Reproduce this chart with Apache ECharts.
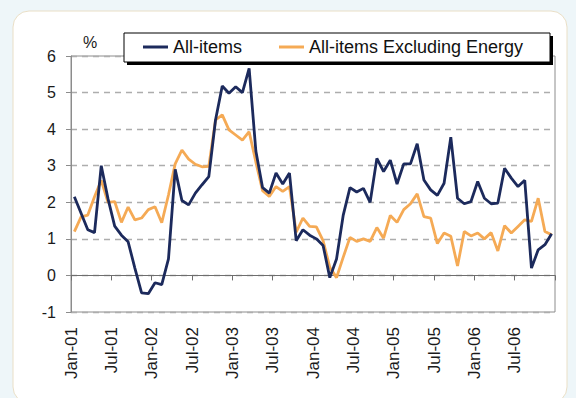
<!DOCTYPE html>
<html><head><meta charset="utf-8">
<script src="https://cdn.jsdelivr.net/npm/echarts@6/dist/echarts.min.js"></script>
<style>html,body{margin:0;padding:0;background:#eef6f9;}#c{width:576px;height:398px;}</style>
</head><body><div id="c"></div>
<script>
const months = [
 'Jan-01','Feb-01','Mar-01','Apr-01','May-01','Jun-01','Jul-01','Aug-01','Sep-01','Oct-01','Nov-01','Dec-01',
 'Jan-02','Feb-02','Mar-02','Apr-02','May-02','Jun-02','Jul-02','Aug-02','Sep-02','Oct-02','Nov-02','Dec-02',
 'Jan-03','Feb-03','Mar-03','Apr-03','May-03','Jun-03','Jul-03','Aug-03','Sep-03','Oct-03','Nov-03','Dec-03',
 'Jan-04','Feb-04','Mar-04','Apr-04','May-04','Jun-04','Jul-04','Aug-04','Sep-04','Oct-04','Nov-04','Dec-04',
 'Jan-05','Feb-05','Mar-05','Apr-05','May-05','Jun-05','Jul-05','Aug-05','Sep-05','Oct-05','Nov-05','Dec-05',
 'Jan-06','Feb-06','Mar-06','Apr-06','May-06','Jun-06','Jul-06','Aug-06','Sep-06','Oct-06','Nov-06','Dec-06'
];
const allItems = [
 2.15,1.7,1.25,1.17,3.0,2.1,1.35,1.1,0.92,0.2,-0.48,-0.5,
 -0.2,-0.25,0.45,2.9,2.05,1.93,2.25,2.48,2.7,4.25,5.18,4.98,
 5.16,5.0,5.66,3.4,2.4,2.25,2.8,2.5,2.8,0.95,1.25,1.1,
 1.0,0.82,-0.06,0.45,1.65,2.4,2.28,2.38,2.0,3.2,2.84,3.15,
 2.5,3.05,3.05,3.6,2.61,2.34,2.19,2.52,3.78,2.11,1.96,2.02,
 2.57,2.11,1.96,1.98,2.93,2.66,2.43,2.6,0.2,0.7,0.84,1.14
];
const exEnergy = [
 1.2,1.6,1.65,2.15,2.6,2.0,2.02,1.45,1.87,1.52,1.57,1.8,
 1.88,1.44,2.2,3.05,3.43,3.18,3.04,2.97,2.98,4.25,4.39,3.98,
 3.84,3.7,3.93,3.1,2.32,2.16,2.43,2.3,2.43,1.18,1.57,1.34,
 1.33,0.95,0.22,-0.06,0.5,1.04,0.93,1.0,0.93,1.31,1.02,1.64,
 1.45,1.8,1.96,2.23,1.61,1.57,0.87,1.16,1.07,0.26,1.2,1.08,
 1.16,1.0,1.17,0.67,1.36,1.16,1.34,1.52,1.48,2.11,1.2,1.11
];
const seriesNames = ['All-items','All-items Excluding Energy'];
const yMin = -1, yMax = 6, yStep = 1;
// tick-label positions sit on month boundaries (73 boundaries for 72 months)
const boundaryLabels = months.concat(['']);

const chart = echarts.init(document.getElementById('c'), null, {renderer:'svg'});
const FONT = 'Liberation Sans, Arial, sans-serif';
const option = {
  backgroundColor:'#eef6f9',
  animation:false,
  graphic:[
    {type:'rect', z:-10, silent:true, shape:{x:13,y:11,width:554,height:392,r:16},
     style:{fill:'#ffffff', stroke:'#eadfc6', lineWidth:1}},
    {type:'rect', z:50, silent:true, shape:{x:127,y:36,width:426,height:29}, style:{fill:'#000'}},
    {type:'rect', z:51, silent:true, shape:{x:124,y:33,width:426,height:29}, style:{fill:'#fff', stroke:'#000', lineWidth:1}}
  ],
  grid:{left:71,right:21,top:56,bottom:86,show:true,borderColor:'#8c8c8c',borderWidth:1,backgroundColor:'transparent'},
  legend:{
    left:143, top:38, padding:0, itemGap:37, itemWidth:25, itemHeight:3, icon:'rect', z:60,
    data:seriesNames,
    textStyle:{fontSize:18, fontFamily:FONT, color:'#111'}
  },
  xAxis:[
    {type:'category', data:months, boundaryGap:true,
     axisLine:{onZero:true, lineStyle:{color:'#6e6e6e', width:1}},
     axisTick:{show:true, interval:5, length:5, lineStyle:{color:'#6e6e6e'}},
     axisLabel:{show:false}, splitLine:{show:false}},
    {type:'category', data:boundaryLabels, boundaryGap:false, position:'bottom',
     axisLine:{show:false, onZero:false}, axisTick:{show:false}, splitLine:{show:false},
     axisLabel:{rotate:90, fontSize:17, fontFamily:FONT, color:'#1a1a1a', margin:15,
       interval:function(i){return i % 6 === 0 && i < months.length;}}}
  ],
  yAxis:{type:'value', min:yMin, max:yMax, interval:yStep,
    axisLine:{show:true, lineStyle:{color:'#8c8c8c'}},
    axisTick:{show:true, length:5, lineStyle:{color:'#8c8c8c'}},
    axisLabel:{fontSize:16, fontFamily:FONT, color:'#1a1a1a', margin:15},
    splitLine:{show:true, lineStyle:{type:[6,5], color:'#adadad', width:1.4}},
    name:'%', nameLocation:'end', nameGap:6,
    nameTextStyle:{fontSize:16, fontFamily:FONT, color:'#1a1a1a', align:'left', padding:[0,0,0,12]}
  },
  series:[
    {name:seriesNames[0], type:'line', data:allItems, xAxisIndex:0, symbol:'none', z:4,
     lineStyle:{color:'#1c2a5c', width:2.8}, itemStyle:{color:'#1c2a5c'}},
    {name:seriesNames[1], type:'line', data:exEnergy, xAxisIndex:0, symbol:'none', z:3,
     lineStyle:{color:'#f5aa55', width:2.8}, itemStyle:{color:'#f5aa55'}}
  ]
};
chart.setOption(option);
</script></body></html>
